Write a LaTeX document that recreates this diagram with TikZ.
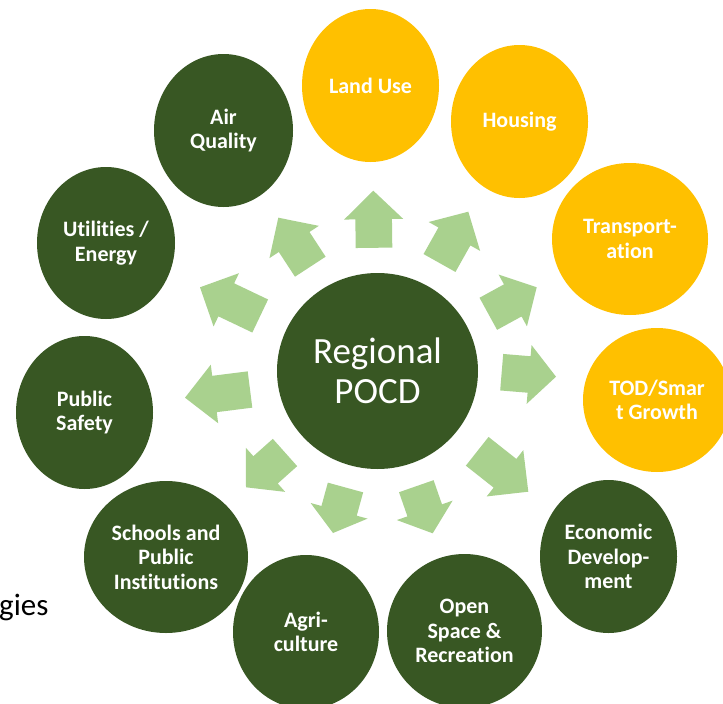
\documentclass[tikz,border=0pt]{standalone}
\usepackage{fontspec}
\setmainfont{Carlito}[Ligatures=NoCommon]
\usetikzlibrary{shapes.geometric,calc}
\definecolor{dkgreen}{HTML}{385723}
\definecolor{gold}{HTML}{FFC000}
\definecolor{ltgreen}{HTML}{A9D18E}
\newcommand\blockarr[3]{%
  \coordinate (hh) at ($(#1)!#3!(#2)$);
  \fill[arrowfill] ($(#2)!18.3pt!90:(#1)$) -- ($(hh)!18.3pt!90:(#1)$) -- ($(hh)!29.5pt!90:(#1)$) -- (#1) -- ($(hh)!29.5pt!-90:(#1)$) -- ($(hh)!18.3pt!-90:(#1)$) -- ($(#2)!18.3pt!-90:(#1)$) -- cycle;
}
\tikzset{
  arrowfill/.style={fill=ltgreen},
  bubble/.style={ellipse, inner sep=0pt, text=white, align=center,
    font=\bfseries\fontsize{22}{24.5}\selectfont},
  greenb/.style={bubble, fill=dkgreen},
  goldb/.style={bubble, fill=gold},
}
\begin{document}
\begin{tikzpicture}[x=1pt,y=-1pt]
\useasboundingbox (0,0) rectangle (723,704);
\clip (0,0) rectangle (723,704);
\fill[white] (0,0) rectangle (723,704);

% centre
\node[ellipse, fill=dkgreen, minimum width=201pt, minimum height=196pt, inner sep=0pt,
  text=white, align=center, font=\fontsize{37}{40}\selectfont] (pocd) at (377.5,371) {Regional\\POCD};

% outer bubbles
\node[goldb, minimum width=137pt, minimum height=153pt] (land) at (370.5,85.5) {Land Use};
\node[goldb, minimum width=137pt, minimum height=153pt] (housing) at (519.5,121.5) {Housing};
\node[goldb, minimum width=156pt, minimum height=152pt] (transp) at (630,239) {Transport-\\ation};
\node[goldb, minimum width=148pt, minimum height=144pt] (tod) at (657,400) {TOD/Smar\\t Growth};
\node[greenb, minimum width=137pt, minimum height=153pt] (econ) at (608.5,556.5) {Economic\\Develop-\\ment};
\node[greenb, minimum width=155pt, minimum height=154pt] (open) at (464.5,631) {Open\\Space \&\\Recreation};
\node[greenb, minimum width=146pt, minimum height=154pt] (agri) at (306,632) {Agri-\\culture};
\node[greenb, minimum width=164pt, minimum height=152pt] (schools) at (166,557) {Schools and\\Public\\Institutions};
\node[greenb, minimum width=137pt, minimum height=153pt] (safety) at (84.5,412.5) {Public\\Safety};
\node[greenb, minimum width=138pt, minimum height=152pt] (util) at (106,243) {Utilities /\\Energy};
\node[greenb, minimum width=139pt, minimum height=153pt] (air) at (223.5,130.5) {Air\\Quality};

% arrow tips and bases
\coordinate (t1) at (373.3,190.7);  \coordinate (b1) at (374,247.8);
\coordinate (t2) at (468.3,211.7);  \coordinate (b2) at (439.5,263);
\coordinate (t3) at (536.7,287.3);  \coordinate (b3) at (488.3,313.8);
\coordinate (t4) at (556,376.7);    \coordinate (b4) at (501.7,372.2);
\coordinate (t5) at (528.3,491.7);  \coordinate (b5) at (477.2,451.3);
\coordinate (t6) at (432.7,533.3);  \coordinate (b6) at (416.3,486.2);
\coordinate (t7) at (333,533);      \coordinate (b7) at (345.5,487.5);
\coordinate (t8) at (246,487.3);    \coordinate (b8) at (285,452.5);
\coordinate (t9) at (185,397.7);    \coordinate (b9) at (250,389.5);
\coordinate (t10) at (200,287.3);   \coordinate (b10) at (260.2,316);
\coordinate (t11) at (278.3,217.7); \coordinate (b11) at (310.3,266.7);

\blockarr{t1}{b1}{28.5pt}
\blockarr{t2}{b2}{28.4pt}
\blockarr{t3}{b3}{27.3pt}
\blockarr{t4}{b4}{27pt}
\blockarr{t5}{b5}{29.7pt}
\blockarr{t6}{b6}{24.3pt}
\blockarr{t7}{b7}{23pt}
\blockarr{t8}{b8}{26.2pt}
\blockarr{t9}{b9}{29.7pt}
\blockarr{t10}{b10}{29.1pt}
\blockarr{t11}{b11}{29pt}

% clipped fragment of text at left
\node[anchor=base west, inner sep=0pt, font=\fontsize{31}{36}\selectfont, text=black] (gies) at (-1,615) {gies};
\end{tikzpicture}
\end{document}
